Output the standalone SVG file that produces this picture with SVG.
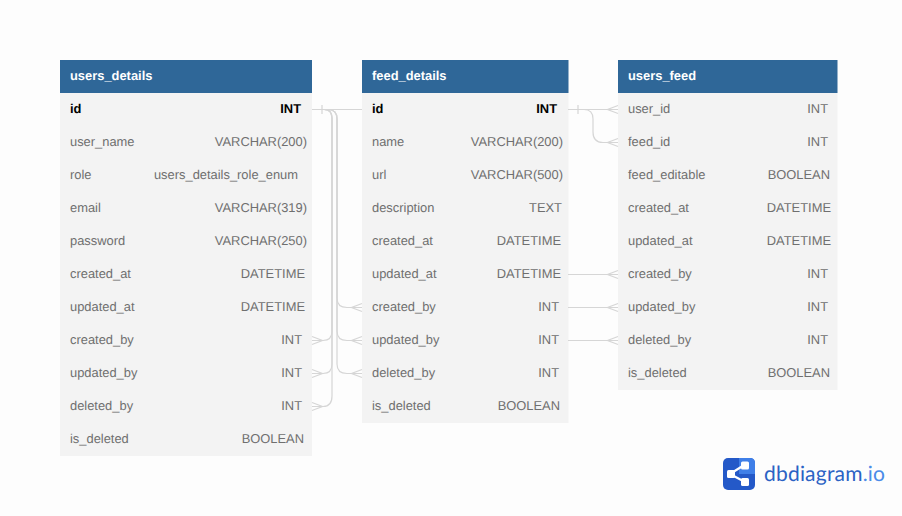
<svg xmlns="http://www.w3.org/2000/svg" width="902" height="516" viewBox="0 0 902 516">
<style>
text{font-family:"Liberation Sans",Arial,sans-serif;font-size:12.900px;fill:#6f6f6f;text-rendering:geometricPrecision}
.h{font-weight:700;fill:#fff}
.k{font-weight:700;fill:#000}
.e{text-anchor:end}
.hd{fill:#2f6798}
.bd{fill:#f3f3f3}
.c{fill:none;stroke:#d6d6d6;stroke-width:1.2}
</style>
<defs>
<path id="cl" class="c" d="M312 -4L322.500 0L312 4"/>
<path id="cr" class="c" d="M362 -4L351.500 0L362 4"/>
</defs>
<rect width="902" height="516" fill="#fdfdfd"/>
<g id="users_details">
<rect class="bd" x="60" y="93" width="252" height="363"/>
<rect class="hd" x="60" y="60" width="252" height="33"/>
<text class="h" x="70" y="80">users_details</text>
<text class="k" x="70" y="113">id</text><text class="k e" x="301" y="113">INT</text>
<text x="70" y="146">user_name</text><text class="e" x="307" y="146">VARCHAR(200)</text>
<text x="70" y="179">role</text><text class="e" x="298" y="179">users_details_role_enum</text>
<text x="70" y="212">email</text><text class="e" x="307" y="212">VARCHAR(319)</text>
<text x="70" y="245">password</text><text class="e" x="307" y="245">VARCHAR(250)</text>
<text x="70" y="278">created_at</text><text class="e" x="305" y="278">DATETIME</text>
<text x="70" y="311">updated_at</text><text class="e" x="305" y="311">DATETIME</text>
<text x="70" y="344">created_by</text><text class="e" x="302" y="344">INT</text>
<text x="70" y="377">updated_by</text><text class="e" x="302" y="377">INT</text>
<text x="70" y="410">deleted_by</text><text class="e" x="302" y="410">INT</text>
<text x="70" y="443">is_deleted</text><text class="e" x="304" y="443">BOOLEAN</text>
</g>
<g id="feed_details">
<rect class="bd" x="362" y="93" width="206.500" height="330"/>
<rect class="hd" x="362" y="60" width="206.500" height="33"/>
<text class="h" x="372" y="80">feed_details</text>
<text class="k" x="372" y="113">id</text><text class="k e" x="557" y="113">INT</text>
<text x="372" y="146">name</text><text class="e" x="563" y="146">VARCHAR(200)</text>
<text x="372" y="179">url</text><text class="e" x="563" y="179">VARCHAR(500)</text>
<text x="372" y="212">description</text><text class="e" x="562" y="212">TEXT</text>
<text x="372" y="245">created_at</text><text class="e" x="561" y="245">DATETIME</text>
<text x="372" y="278">updated_at</text><text class="e" x="561" y="278">DATETIME</text>
<text x="372" y="311">created_by</text><text class="e" x="559" y="311">INT</text>
<text x="372" y="344">updated_by</text><text class="e" x="559" y="344">INT</text>
<text x="372" y="377">deleted_by</text><text class="e" x="559" y="377">INT</text>
<text x="372" y="410">is_deleted</text><text class="e" x="560" y="410">BOOLEAN</text>
</g>
<g id="users_feed">
<rect class="bd" x="618" y="93" width="219.500" height="297"/>
<rect class="hd" x="618" y="60" width="219.500" height="33"/>
<text class="h" x="628" y="80">users_feed</text>
<text x="628" y="113">user_id</text><text class="e" x="828" y="113">INT</text>
<text x="628" y="146">feed_id</text><text class="e" x="828" y="146">INT</text>
<text x="628" y="179">feed_editable</text><text class="e" x="830" y="179">BOOLEAN</text>
<text x="628" y="212">created_at</text><text class="e" x="831" y="212">DATETIME</text>
<text x="628" y="245">updated_at</text><text class="e" x="831" y="245">DATETIME</text>
<text x="628" y="278">created_by</text><text class="e" x="828" y="278">INT</text>
<text x="628" y="311">updated_by</text><text class="e" x="828" y="311">INT</text>
<text x="628" y="344">deleted_by</text><text class="e" x="828" y="344">INT</text>
<text x="628" y="377">is_deleted</text><text class="e" x="830" y="377">BOOLEAN</text>
</g>
<g id="connectors">
<path class="c" d="M312 109.500H362"/>
<path class="c" d="M322 105V114"/>
<path class="c" d="M324 109.500Q332 109.500 332 118V331Q332 340.500 323 340.500H312"/>
<path class="c" d="M324 109.500Q332 109.500 332 118V364Q332 373.500 323 373.500H312"/>
<path class="c" d="M324 109.500Q332 109.500 332 118V396Q332 406.500 323 406.500H312"/>
<path class="c" d="M328 109.500Q337 109.500 337 119V298Q337 307.500 347 307.500H362"/>
<path class="c" d="M328 109.500Q337 109.500 337 119V331Q337 340.500 347 340.500H362"/>
<path class="c" d="M328 109.500Q337 109.500 337 119V364Q337 373.500 347 373.500H362"/>
<use href="#cl" y="340.500"/><use href="#cl" y="373.500"/><use href="#cl" y="406.500"/>
<use href="#cr" y="307.500"/><use href="#cr" y="340.500"/><use href="#cr" y="373.500"/>
<path class="c" d="M568 109.500H618"/>
<path class="c" d="M578 105V114"/>
<path class="c" d="M584 109.500Q593 109.500 593 119V132Q593 142.500 603 142.500H618"/>
<path class="c" d="M568 274.500H618"/><path class="c" d="M568 307.500H618"/><path class="c" d="M568 340.500H618"/>
<use href="#cr" x="256" y="109.500"/><use href="#cr" x="256" y="142.500"/><use href="#cr" x="256" y="274.500"/><use href="#cr" x="256" y="307.500"/><use href="#cr" x="256" y="340.500"/>
</g>
<g id="logo">
<rect x="723" y="458" width="32" height="32" rx="5" fill="#2459c8"/>
<path d="M739 458H750Q755 458 755 463V474H739Z" fill="#3f7fe8"/>
<path d="M730 474L745 464.500M730 474L745 482" stroke="#fff" stroke-width="2.200" fill="none"/>
<rect x="727" y="470" width="8" height="8" rx="1.500" fill="#fff"/>
<rect x="741" y="461.500" width="8" height="8" rx="1.500" fill="#fff"/>
<rect x="741" y="478" width="8" height="8" rx="1.500" fill="#fff"/>
<text x="764" y="481" style="font-family:Lato,'Noto Sans',sans-serif;font-size:21px;letter-spacing:.2px;fill:#2b62c4">dbdiagram<tspan style="fill:#4a8be8">.io</tspan></text>
</g>
</svg>
